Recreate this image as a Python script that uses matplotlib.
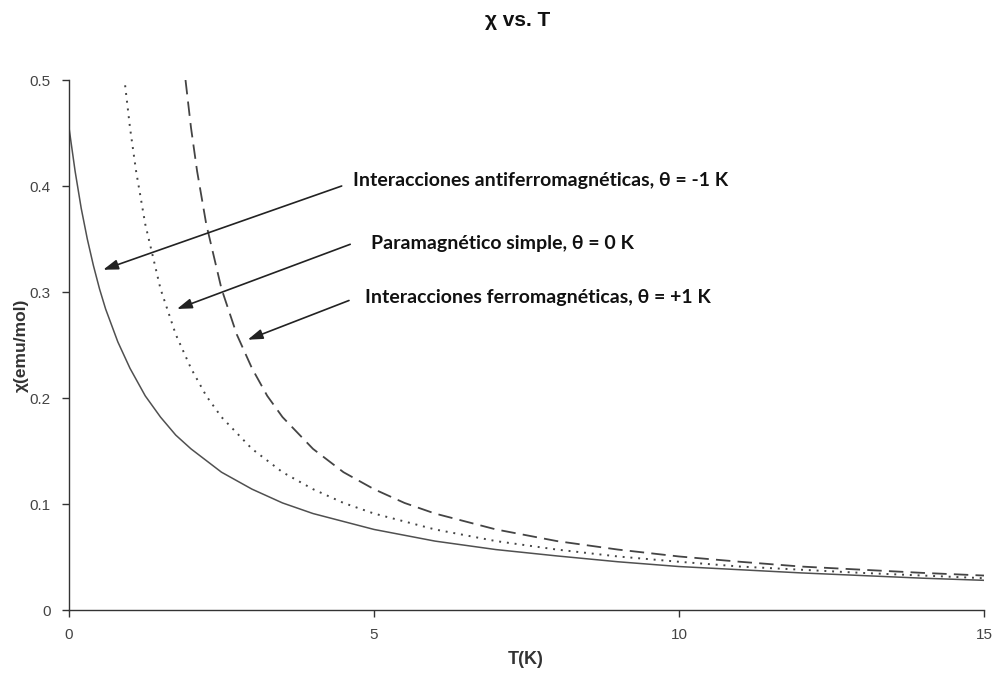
import matplotlib
matplotlib.use("Agg")
import matplotlib.pyplot as plt

# Data
T_afm = [0, 0.1, 0.2, 0.3, 0.4, 0.5, 0.6, 0.8, 1.0, 1.25, 1.5, 1.75, 2, 2.5, 3, 3.5, 4, 5, 6, 7, 8, 9, 10, 11, 12, 13, 14, 15]
chi_afm = [0.455, 0.414, 0.379, 0.350, 0.325, 0.303, 0.284, 0.253, 0.228, 0.202, 0.182, 0.165, 0.152, 0.130, 0.114, 0.101, 0.091, 0.076, 0.065, 0.057, 0.051, 0.0455, 0.041, 0.038, 0.035, 0.0325, 0.030, 0.028]

T_para = [0.92, 1.0, 1.1, 1.25, 1.5, 1.75, 2, 2.25, 2.5, 3, 3.5, 4, 4.5, 5, 6, 7, 8, 9, 10, 11, 12, 13, 14, 15]
chi_para = [0.495, 0.455, 0.414, 0.364, 0.303, 0.260, 0.228, 0.202, 0.182, 0.152, 0.130, 0.114, 0.101, 0.091, 0.076, 0.065, 0.057, 0.0505, 0.0455, 0.041, 0.038, 0.035, 0.0325, 0.030]

T_fm = [1.91, 2.0, 2.1, 2.25, 2.5, 2.75, 3, 3.25, 3.5, 4, 4.5, 5, 5.5, 6, 7, 8, 9, 10, 11, 12, 13, 14, 15]
chi_fm = [0.500, 0.455, 0.414, 0.364, 0.303, 0.260, 0.228, 0.202, 0.182, 0.152, 0.130, 0.114, 0.101, 0.091, 0.076, 0.065, 0.057, 0.0505, 0.0455, 0.041, 0.038, 0.035, 0.0325]

labels = ["Interacciones antiferromagnéticas, θ = -1 K",
          "Paramagnético simple, θ = 0 K",
          "Interacciones ferromagnéticas, θ = +1 K"]
label_pos = [(4.656, 0.405), (4.95, 0.346), (4.85, 0.295)]
arrow_tail = [(4.47, 0.40), (4.61, 0.345), (4.59, 0.292)]
arrow_head = [(0.56, 0.321), (1.77, 0.284), (2.93, 0.255)]

xticks = [0, 5, 10, 15]
yticks = [0, 0.1, 0.2, 0.3, 0.4, 0.5]
yticklabels = ["0", "0.1", "0.2", "0.3", "0.4", "0.5"]

fig = plt.figure(figsize=(9.95, 6.73), dpi=100)
ax = fig.add_axes([69/995, (673-610)/673, (984-69)/995, (610-80)/673])

ax.plot(T_afm, chi_afm, color="#505050", lw=1.1, ls="-")
ax.plot(T_para, chi_para, color="#444444", lw=1.4, ls=(0, (1, 3)))
ax.plot(T_fm, chi_fm, color="#444444", lw=1.3, ls=(0, (8, 4)))

ax.set_xlim(0, 15)
ax.set_ylim(0, 0.5)
ax.set_xticks(xticks)
ax.set_yticks(yticks)
ax.set_yticklabels(yticklabels)
for s in ["top", "right"]:
    ax.spines[s].set_visible(False)
for s in ["left", "bottom"]:
    ax.spines[s].set_color("#333333")
    ax.spines[s].set_linewidth(1.0)
ax.tick_params(direction="out", length=5, width=1, color="#333333",
               labelcolor="#444444", labelsize=11, pad=8)
for t in ax.get_xticklabels() + ax.get_yticklabels():
    t.set_family("Liberation Sans")

fig.text(526/995, 1 - 660/673, "T(K)", ha="center", va="center", fontsize=13,
         fontweight="bold", family="Liberation Sans", color="#333333")
fig.text(21/995, 1 - 345/673, "χ(emu/mol)", ha="center", va="center", rotation=90,
         fontsize=12.5, fontweight="bold", family="Liberation Sans", color="#333333")
fig.text(518/995, 1 - 21/673, "χ vs. T", ha="center", va="center", fontsize=15,
         fontweight="bold", family="Liberation Sans", color="#111111")

for lab, pos, tail, head in zip(labels, label_pos, arrow_tail, arrow_head):
    ax.annotate("", xy=head, xytext=tail,
                arrowprops=dict(arrowstyle="-|>,head_length=0.9,head_width=0.3",
                                color="#222222", lw=1.2, shrinkA=0, shrinkB=0))
    ax.text(pos[0], pos[1], lab, ha="left", va="center", fontsize=14,
            fontweight="bold", family="Lato", color="#111111")

fig.savefig("out.png", dpi=100)
